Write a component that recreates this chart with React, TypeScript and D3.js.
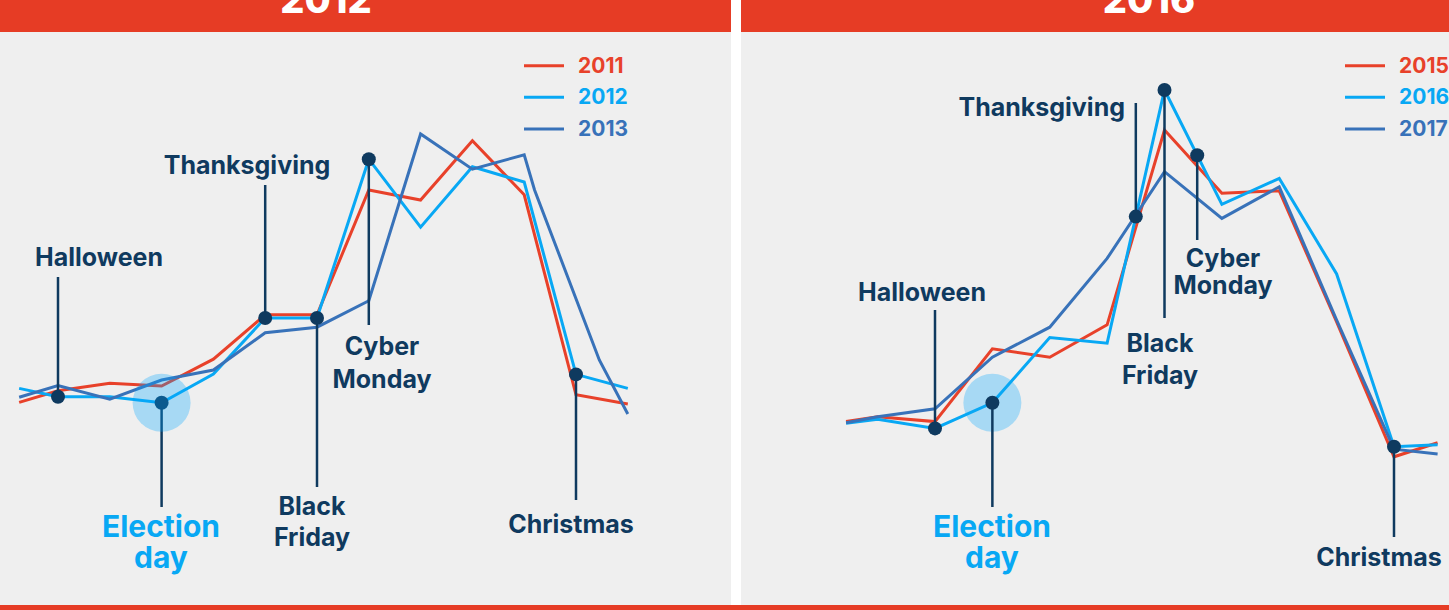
import React from "react";
import * as d3 from "d3";

// ---------- DATA ----------
const leftTitle = "2012";
const rightTitle = "2016";
const leftYears = ["2011", "2012", "2013"];
const rightYears = ["2015", "2016", "2017"];

// week index positions (fractional where the series is offset / clipped)
const left2011X = [0.25, 1, 2, 3, 4, 5, 6, 7, 8, 9, 10, 11, 12];
const left2011 = [19.4, 22.3, 24.2, 23.5, 30.2, 41.3, 41.3, 72.5, 70, 84.8, 71.3, 21.3, 19];
const left2012X = [0.25, 1, 2, 3, 4, 5, 6, 7, 8, 9, 10, 11, 12];
const left2012 = [22.9, 20.8, 20.8, 19.3, 26.5, 40.5, 40.5, 80.2, 63.2, 78.3, 74.5, 26.4, 22.9];
const left2013X = [0.25, 1, 2, 3, 4, 5, 6, 7, 8, 9, 10, 10.2, 11.45, 12];
const left2013 = [20.7, 23.6, 20.2, 25, 27.5, 36.8, 38.2, 44.8, 86.5, 77.7, 81.3, 72.5, 30, 16.5];

const right2015X = [-0.55, 0, 1, 2, 3, 4, 5, 6, 7, 8, 9, 9.76];
const right2015 = [14.6, 15.8, 14.6, 32.8, 30.7, 38.8, 87.5, 71.7, 72.3, 39.5, 5.8, 9.3];
const right2016X = [-0.55, 0, 1, 2, 3, 4, 5, 6, 7, 8, 9, 9.76];
const right2016 = [14.2, 15.2, 12.9, 19.3, 35.6, 34.2, 97.5, 68.9, 75.4, 51.5, 8.3, 8.8];
const right2017X = [-0.55, 0, 1, 2, 3, 4, 5, 6, 7, 8, 9, 9.76];
const right2017 = [14.3, 15.8, 17.8, 30.7, 38.2, 55.4, 77.1, 65.4, 73.3, 40, 7.7, 6.5];

// events (week index on the chart)
const leftEvents = ["Halloween", "Election day", "Thanksgiving", "Black Friday", "Cyber Monday", "Christmas"];
const leftEventIdx = [1, 3, 5, 6, 7, 11];
const rightEvents = ["Halloween", "Election day", "Thanksgiving", "Black Friday", "Cyber Monday", "Christmas"];
const rightEventIdx = [1, 2, 4.5, 5, 5.57, 9];

// ---------- STYLE ----------
const RED = "#e8412a";
const LBLUE = "#08a8f4";
const DBLUE = "#3872b9";
const NAVY = "#0f3a5f";
const HEADER = "#e63c25";
const BG = "#efefef";
const FONT = "Inter, Lato, 'Open Sans', sans-serif";

const yScale = d3.scaleLinear().domain([0, 100]).range([480, 80]);

function interp(xs: number[], vs: number[], x: number) {
  for (let i = 0; i < xs.length - 1; i++) {
    if (x >= xs[i] && x <= xs[i + 1]) {
      const t = (x - xs[i]) / (xs[i + 1] - xs[i]);
      return vs[i] + t * (vs[i + 1] - vs[i]);
    }
  }
  return vs[vs.length - 1];
}

type Ann = {
  lines: string[];
  lineTo: number; // y end of connector
  lx: number; // label x
  ly: number[]; // label baselines
  anchor?: string;
  election?: boolean;
};

function Panel(props: {
  x0: number;
  x1: number;
  title: string;
  titleX: number;
  xScale: d3.ScaleLinear<number, number>;
  series: { x: number[]; v: number[]; color: string; name: string }[];
  events: string[];
  eventIdx: number[];
  anns: Ann[];
  legendX: number;
  circleOver: boolean;
}) {
  const { x0, x1, xScale, series } = props;
  const line = (xs: number[], vs: number[]) =>
    d3
      .line<number>()
      .x((_, i) => xScale(xs[i]))
      .y((d) => yScale(d))(vs) || "";
  const main = series[1];
  const legendYs = [65.7, 97.3, 129];
  const elecI = props.anns.findIndex((a) => a.election);
  const ex = xScale(props.eventIdx[elecI]);
  const ey = yScale(interp(main.x, main.v, props.eventIdx[elecI]));
  const circle = <circle cx={ex} cy={ey} r={29} fill="#00a5ff" fillOpacity={0.3} />;
  return (
    <g>
      <rect x={x0} y={0} width={x1 - x0} height={32} fill={HEADER} />
      <rect x={x0} y={32} width={x1 - x0} height={573} fill={BG} />
      <text x={props.titleX} y={13} fill="#fff" fontFamily={FONT} fontWeight={800} fontSize={38} textAnchor="middle">
        {props.title}
      </text>
      {!props.circleOver && circle}
      {series.map((s) => (
        <path key={s.name} d={line(s.x, s.v)} fill="none" stroke={s.color} strokeWidth={3} strokeLinejoin="miter" />
      ))}
      {props.anns.map((a, i) => {
        const idx = props.eventIdx[i];
        const cx = xScale(idx);
        const cy = yScale(interp(main.x, main.v, idx));
        return (
          <g key={props.events[i]}>
            <line x1={cx} x2={cx} y1={cy} y2={a.lineTo} stroke={NAVY} strokeWidth={2.5} />
            <circle cx={cx} cy={cy} r={7} fill={NAVY} />
            {a.lines.map((t, k) => (
              <text
                key={k}
                x={a.lx}
                y={a.ly[k]}
                textAnchor={a.anchor || "middle"}
                fontFamily={FONT}
                fontWeight={700}
                fontSize={a.election ? 30 : 25}
                fill={a.election ? LBLUE : NAVY}
              >
                {t}
              </text>
            ))}
          </g>
        );
      })}
      {props.circleOver && circle}
      {series.map((s, k) => (
        <g key={"lg" + s.name}>
          <line x1={props.legendX} x2={props.legendX + 40} y1={legendYs[k]} y2={legendYs[k]} stroke={s.color} strokeWidth={3} />
          <text x={props.legendX + 54} y={legendYs[k] + 7} fontFamily={FONT} fontWeight={700} fontSize={21} fill={s.color}>
            {s.name}
          </text>
        </g>
      ))}
    </g>
  );
}

export default function App() {
  const xl = d3.scaleLinear().domain([1, 11]).range([58, 576]);
  const xr = d3.scaleLinear().domain([1, 9]).range([935, 1394]);
  const cols = [RED, LBLUE, DBLUE];
  const leftSeries = [
    { x: left2011X, v: left2011 },
    { x: left2012X, v: left2012 },
    { x: left2013X, v: left2013 },
  ].map((s, i) => ({ ...s, color: cols[i], name: leftYears[i] }));
  const rightSeries = [
    { x: right2015X, v: right2015 },
    { x: right2016X, v: right2016 },
    { x: right2017X, v: right2017 },
  ].map((s, i) => ({ ...s, color: cols[i], name: rightYears[i] }));

  const split = (s: string) => (s === "Thanksgiving" || s === "Halloween" || s === "Christmas" ? [s] : s.split(" "));

  const leftAnns: Ann[] = [
    { lines: split(leftEvents[0]), lineTo: 277, lx: 99, ly: [266] },
    { lines: split(leftEvents[1]), lineTo: 507, lx: 161, ly: [537, 568], election: true },
    { lines: split(leftEvents[2]), lineTo: 185, lx: 247, ly: [174] },
    { lines: split(leftEvents[3]), lineTo: 487, lx: 312, ly: [515, 546] },
    { lines: split(leftEvents[4]), lineTo: 325, lx: 382, ly: [355, 388] },
    { lines: split(leftEvents[5]), lineTo: 500, lx: 571, ly: [533] },
  ];
  const rightAnns: Ann[] = [
    { lines: split(rightEvents[0]), lineTo: 310, lx: 922, ly: [300.5] },
    { lines: split(rightEvents[1]), lineTo: 507, lx: 992, ly: [537, 568], election: true },
    { lines: split(rightEvents[2]), lineTo: 103, lx: 1125, ly: [115.5], anchor: "end" },
    { lines: split(rightEvents[3]), lineTo: 318, lx: 1160, ly: [351.5, 384] },
    { lines: split(rightEvents[4]), lineTo: 240, lx: 1223, ly: [267, 294] },
    { lines: split(rightEvents[5]), lineTo: 537, lx: 1379, ly: [566] },
  ];

  return (
    <svg width={1449} height={610} style={{ position: "absolute", left: 0, top: 0, display: "block" }}>
      <rect x={0} y={0} width={1449} height={610} fill="#fff" />
      <Panel
        x0={0}
        x1={731}
        title={leftTitle}
        titleX={326}
        xScale={xl}
        series={leftSeries}
        events={leftEvents}
        eventIdx={leftEventIdx}
        anns={leftAnns}
        legendX={524}
        circleOver={true}
      />
      <Panel
        x0={741}
        x1={1449}
        title={rightTitle}
        titleX={1149}
        xScale={xr}
        series={rightSeries}
        events={rightEvents}
        eventIdx={rightEventIdx}
        anns={rightAnns}
        legendX={1345}
        circleOver={false}
      />
      <rect x={0} y={605} width={1449} height={5} fill={HEADER} />
    </svg>
  );
}
